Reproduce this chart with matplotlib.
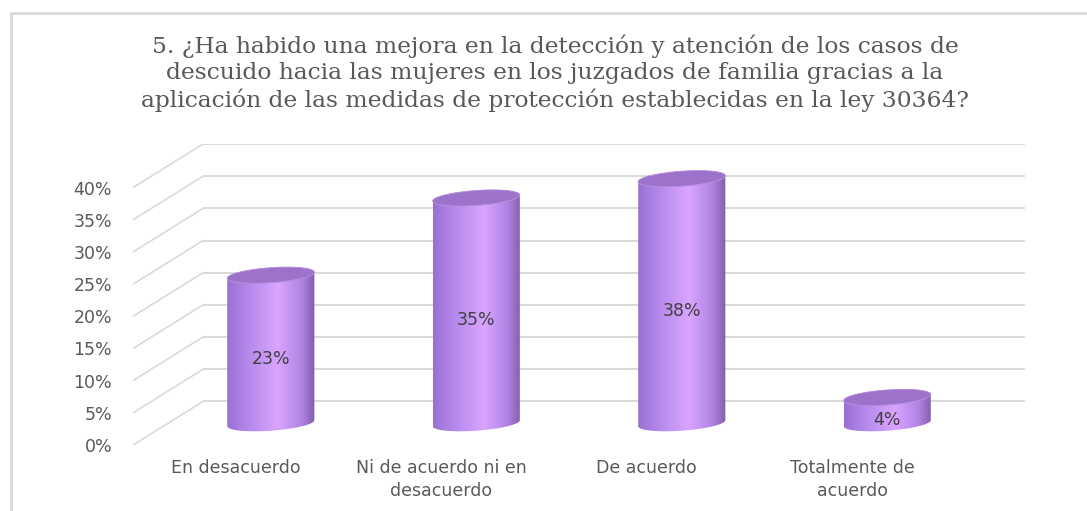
import numpy as np
import matplotlib
matplotlib.use("Agg")
from matplotlib import pyplot as plt
from matplotlib.patches import Polygon, Rectangle
from matplotlib.colors import LinearSegmentedColormap

# ---- data

title = ("5. ¿Ha habido una mejora en la detección y atención de los casos de\n"
         "descuido hacia las mujeres en los juzgados de familia gracias a la\n"
         "aplicación de las medidas de protección establecidas en la ley 30364?")
categories = ["En desacuerdo", "Ni de acuerdo ni en\ndesacuerdo",
              "De acuerdo", "Totalmente de\nacuerdo"]
values = [23, 35, 38, 4]
yticks = [0, 5, 10, 15, 20, 25, 30, 35, 40]

# ---- fake 3d geometry (data units)

dx, dy = 0.341, 6.78      # depth shift of back wall
half_w = 0.212             # cylinder radius along x
b = 1.17                   # ellipse half height
k = 0.47                   # ellipse tilt

grid_col = "#d9d9d9"
text_col = "#595959"

body_cmap = LinearSegmentedColormap.from_list(
    "cyl", [(0.0, "#9a70d4"), (0.25, "#b58aec"), (0.58, "#daa4ff"),
            (0.85, "#b084e4"), (1.0, "#825ca9")])
top_col = "#9d72cb"


def ellipse_pts(cx, cy, t):
    return np.column_stack([cx + half_w*np.cos(t), cy + b*np.sin(t) + k*np.cos(t)])


def cylinder(ax, cx, y0, y1):
    t_front = np.linspace(np.pi, 2*np.pi, 60)   # lower (front) half
    t_back = np.linspace(0, np.pi, 60)
    bottom = ellipse_pts(cx, y0, t_front)
    top = ellipse_pts(cx, y1, t_back)
    pts = np.vstack([bottom, top])
    body = Polygon(pts, closed=True, facecolor="none", edgecolor="none")
    ax.add_patch(body)
    body.set_clip_on(False)
    grad = np.linspace(0, 1, 256).reshape(1, -1)
    im = ax.imshow(grad, cmap=body_cmap, aspect="auto", interpolation="bicubic",
                   extent=[cx-half_w, cx+half_w, y0-b-k, y1+b+k], zorder=3)
    im.set_clip_path(body)
    t = np.linspace(0, 2*np.pi, 120)
    cap = Polygon(ellipse_pts(cx, y1, t), closed=True, facecolor=top_col,
                  edgecolor="#b990e0", lw=0.6, zorder=4, clip_on=False)
    ax.add_patch(cap)


fig = plt.figure(figsize=(10.87, 5.11), dpi=100)
fig.patch.set_facecolor("white")

# chart frame
fig.patches.append(Rectangle((11/1087, -0.1), 1.2, (511-13)/511 + 0.1,
                             transform=fig.transFigure, fill=False,
                             edgecolor=grid_col, lw=2))

fig.text(555/1087, 1 - 73/511, title, ha="center", va="center",
         fontsize=16.8, family="DejaVu Serif", color=text_col,
         linespacing=1.24)

ax = fig.add_axes([133/1087, 66/511, 892/1087, 301/511])
ax.set_facecolor("none")
for s in ax.spines.values():
    s.set_visible(False)

# gridlines: back wall + left side wall
for v in yticks:
    ax.plot([-0.5 + dx, 3.5 + dx], [v + dy, v + dy], color=grid_col, lw=1.4,
            zorder=1, solid_capstyle="butt")
    ax.plot([-0.5, -0.5 + dx], [v, v + dy], color=grid_col, lw=1.2, zorder=1)

for i, v in enumerate(values):
    cx = i + dx/2
    cylinder(ax, cx, dy/2, v + dy/2)
    ax.text(cx, v/2 + 1.9, f"{v}%", ha="center", va="center", fontsize=12.5,
            color="#404040", zorder=5)

ax.set_xlim(-0.5, 3.5 + dx)
ax.set_ylim(0, 40 + dy)
ax.set_yticks(yticks)
ax.set_yticklabels([f"{v}%" for v in yticks])
ax.set_xticks(range(len(categories)))
ax.set_xticklabels(categories, linespacing=1.35)
ax.tick_params(axis="y", length=0, pad=15, labelsize=12.5, labelcolor=text_col)
ax.tick_params(axis="x", length=0, pad=10, labelsize=12.5, labelcolor=text_col)

plt.savefig("out.png", dpi=100)
